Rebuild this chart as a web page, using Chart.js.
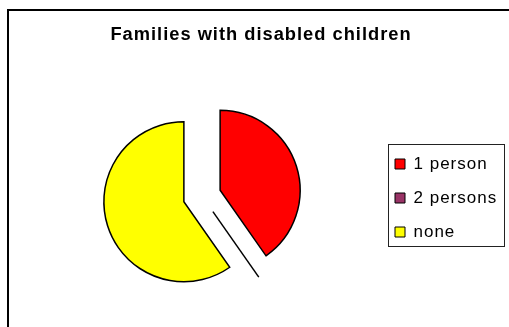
<!DOCTYPE html>
<html>
<head>
<meta charset="utf-8">
<script src="https://cdn.jsdelivr.net/npm/chart.js@4/dist/chart.umd.min.js"></script>
<style>
  html, body { margin: 0; padding: 0; background: #fff; }
  #c { display: block; }
</style>
</head>
<body>
<canvas id="c" width="509" height="327"></canvas>
<script>
// ---- data ----
const titleText = 'Families with disabled children';
const categories = ['1 person', '2 persons', 'none'];
const familyCounts = [29, 0, 43];
const sliceColors = ['#FF0000', '#993366', '#FFFF00'];

// ---- styling constants ----
const EXPLODE = 19;          // px each slice is pulled out
const FONT = "'Liberation Sans', Arial, sans-serif";

// exploded slices (Excel style) : translate each arc along its bisector
const ArcEl = Chart.ArcElement || Chart.registry.getElement('arc');
const baseDraw = ArcEl.prototype.draw;
ArcEl.prototype.draw = function (ctx) {
  const mid = (this.startAngle + this.endAngle) / 2;
  ctx.save();
  ctx.translate(Math.cos(mid) * EXPLODE, Math.sin(mid) * EXPLODE);
  if (this.circumference === 0) {
    // zero-size slice is shown as a single radial line
    const o = this.options;
    ctx.beginPath();
    ctx.moveTo(this.x, this.y);
    ctx.lineTo(this.x + Math.cos(this.startAngle) * this.outerRadius,
               this.y + Math.sin(this.startAngle) * this.outerRadius);
    ctx.lineWidth = o.borderWidth;
    ctx.strokeStyle = o.borderColor;
    ctx.stroke();
  } else {
    baseDraw.call(this, ctx);
  }
  ctx.restore();
};

const framePlugin = {
  id: 'frame',
  beforeDraw(chart) {
    chart.ctx.letterSpacing = '1px';
  },
  afterDraw(chart) {
    const ctx = chart.ctx;
    ctx.save();
    ctx.letterSpacing = '0px';
    // outer chart frame
    ctx.lineWidth = 2;
    ctx.strokeStyle = '#000';
    ctx.strokeRect(8, 10, 600, 400);
    // legend frame
    ctx.lineWidth = 1;
    ctx.strokeStyle = '#222';
    ctx.strokeRect(388.5, 144.5, 116, 102);
    ctx.restore();
  }
};

Chart.defaults.color = '#000';
Chart.defaults.font.family = FONT;

new Chart(document.getElementById('c'), {
  type: 'pie',
  data: {
    labels: categories,
    datasets: [{
      data: familyCounts,
      backgroundColor: sliceColors,
      borderColor: '#000',
      borderWidth: 1.5,
      hoverBorderWidth: 1.5,
      hoverOffset: 0,
      offset: 0,
      borderJoinStyle: 'miter',
      clip: false
    }]
  },
  options: {
    responsive: false,
    animation: false,
    events: [],
    layout: { padding: { top: 0, left: 26, right: 13, bottom: 50.25 } },
    plugins: {
      tooltip: { enabled: false },
      title: {
        display: true,
        text: titleText,
        color: '#000',
        font: { size: 18.3, weight: 'bold', family: FONT },
        padding: { top: 24, bottom: 69.29 }
      },
      legend: {
        position: 'right',
        fullSize: false,
        maxWidth: 118,
        title: { display: true, text: '', padding: 0, font: { size: 4, lineHeight: 1 } },
        labels: {
          boxWidth: 10,
          boxHeight: 10,
          padding: 17,
          color: '#000',
          font: { size: 17, family: FONT },
          generateLabels(chart) {
            const items = Chart.overrides.doughnut.plugins.legend.labels.generateLabels(chart);
            items.forEach(it => { it.lineWidth = 1; it.strokeStyle = '#000'; });
            return items;
          }
        }
      }
    }
  },
  plugins: [framePlugin]
});
</script>
</body>
</html>
